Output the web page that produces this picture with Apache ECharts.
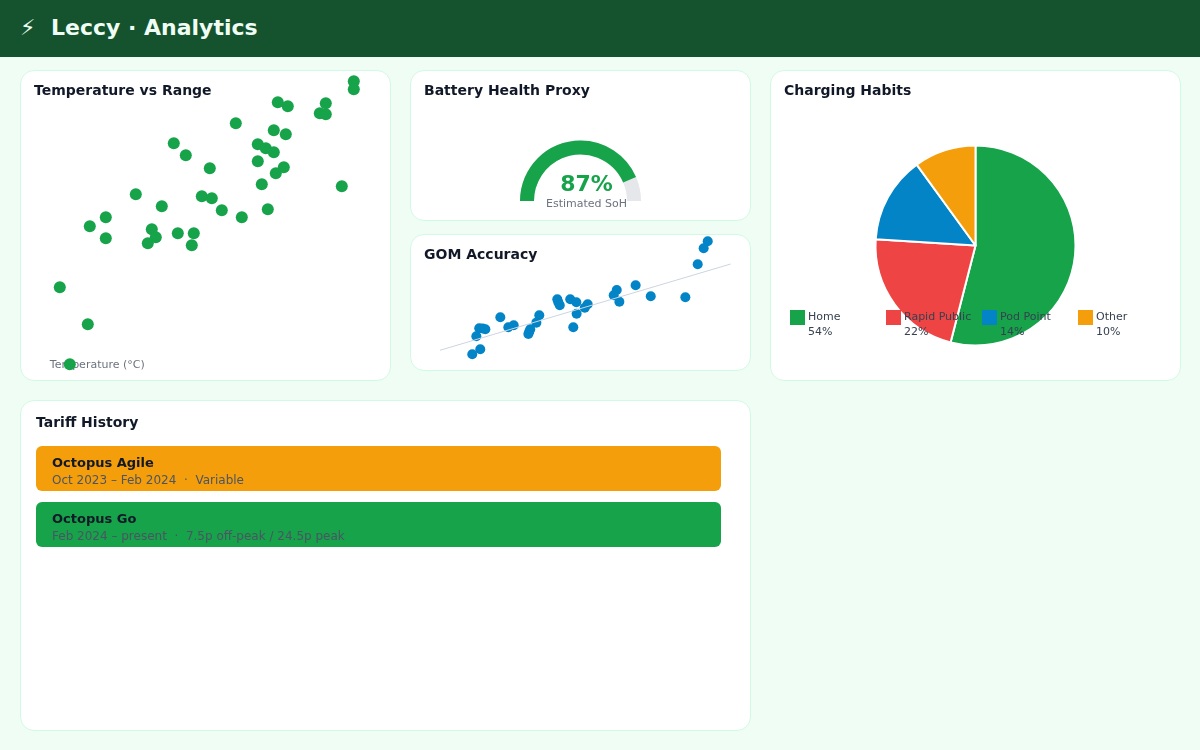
<!DOCTYPE html>
<html lang="en">
<head>
<meta charset="utf-8">
<title>Leccy · Analytics</title>
<script src="https://cdn.jsdelivr.net/npm/echarts@6/dist/echarts.min.js"></script>
<style>
  * { box-sizing: border-box; }
  html, body { margin: 0; width: 1200px; height: 750px; overflow: hidden; background: #f0fdf4;
    font-family: "DejaVu Sans", sans-serif; }
  header { position: absolute; left: 0; top: 0; width: 1200px; height: 57px; background: #14532d;
    color: #f0fdf4; font-weight: 700; font-size: 22px; line-height: 56px; }
  header .bolt { position: absolute; left: 20px; font-weight: 400; font-size: 22px; }
  header .name { position: absolute; left: 51px; }
  .card { position: absolute; background: #fff; border: 1px solid #d1fae5; border-radius: 14px; }
  .card h2 { position: absolute; left: 13px; top: 11px; margin: 0; font-size: 14px; line-height: 17px;
    font-weight: 700; color: #111827; white-space: nowrap; z-index: 2; }
  .plot { position: absolute; left: 0; top: 0; width: 100%; height: 100%; }
  .legend { position: absolute; left: 19px; top: 238px; width: 384px; display: flex; z-index: 2; }
  .legend div { width: 96px; position: relative; padding-left: 18px; font-size: 11px; line-height: 15px; color: #374151; }
  .legend i { position: absolute; left: 0; top: 1px; width: 15px; height: 15px; }
</style>
</head>
<body>
<header><span class="bolt">⚡</span><span class="name">Leccy · Analytics</span></header>

<section class="card" style="left:20px;top:70px;width:371px;height:311px">
  <h2>Temperature vs Range</h2><div class="plot" id="tempChart"></div>
</section>
<section class="card" style="left:410px;top:70px;width:341px;height:151px">
  <h2>Battery Health Proxy</h2><div class="plot" id="healthChart"></div>
</section>
<section class="card" style="left:410px;top:234px;width:341px;height:137px">
  <h2>GOM Accuracy</h2><div class="plot" id="gomChart"></div>
</section>
<section class="card" style="left:770px;top:70px;width:411px;height:311px">
  <h2>Charging Habits</h2><div class="plot" id="habitChart"></div><div class="legend" id="habitLegend"></div>
</section>
<section class="card" style="left:20px;top:400px;width:731px;height:331px">
  <h2 style="left:15px;top:13px">Tariff History</h2><div class="plot" id="tariffChart"></div>
</section>

<script>
const GREEN = '#16a34a', BLUE = '#0284c7', RED = '#ef4444', AMBER = '#f59e0b';

// Outside temperature (°C) against achieved range (miles)
const tempRange = [
  [15.2,261.9],[15.2,257.9],[11.4,251.4],[11.9,249.4],[13.8,250.9],[13.5,245.9],[13.8,245.4],[9.3,240.9],
  [11.2,237.4],[11.8,235.4],[6.2,230.9],[10.4,230.4],[10.8,228.4],[11.2,226.4],[6.8,224.9],[10.4,221.9],
  [8.0,218.4],[11.7,218.9],[11.3,215.9],[10.6,210.4],[14.6,209.4],[4.3,205.4],[7.6,204.4],[8.1,203.4],
  [5.6,199.4],[10.9,197.9],[8.6,197.4],[9.6,193.9],[2.8,193.9],[2.0,189.4],[5.1,187.9],[5.3,183.9],
  [6.4,185.9],[7.2,185.9],[2.8,183.4],[4.9,180.9],[7.1,179.9],[0.5,158.9],[1.9,140.4],[1.0,120.4]
];

// Guess-o-meter prediction against miles actually driven
const gomReadings = [
  [284.2,352.6],[281.4,336.4],[277.3,299.3],[234.6,250.6],[221.6,239.7],[219.5,227.5],[245.0,225.1],[268.8,222.8],
  [223.4,212.6],[180.7,218.2],[181.4,211.2],[182.4,204.3],[189.6,218.2],[193.8,211.2],[201.6,206.6],[199.6,198.7],
  [194.0,184.8],[168.3,181.1],[166.3,164.0],[191.7,153.3],[141.5,176.5],[150.7,157.9],[147.0,153.3],[162.1,148.7],
  [161.4,143.1],[160.8,137.8],[127.0,151.0],[129.4,150.3],[131.2,148.7],[125.0,132.4],[127.7,102.3],[122.2,90.7]
];
const gomParity = [[100,100],[300,300]];

const healthPercent = 87;
const healthLabel = 'Estimated SoH';

const habitNames = ['Home', 'Rapid Public', 'Pod Point', 'Other'];
const habitShares = [54, 22, 14, 10];
const habitColours = [GREEN, RED, BLUE, AMBER];

const tariffNames = ['Octopus Agile', 'Octopus Go'];
const tariffDetails = ['Oct 2023 – Feb 2024  ·  Variable', 'Feb 2024 – present  ·  7.5p off-peak / 24.5p peak'];
const tariffColours = [AMBER, GREEN];

const mount = id => echarts.init(document.getElementById(id), null, { renderer: 'canvas' });
const hiddenAxis = { show: false, type: 'value' };

mount('tempChart').setOption({
  animation: false,
  grid: { left: 28.8, top: 4, width: 320, height: 290 },
  xAxis: {
    type: 'value', min: 0, max: 16, splitLine: { show: false },
    axisLine: { show: false }, axisTick: { show: false }, axisLabel: { show: false },
    name: 'Temperature (°C)', nameLocation: 'start', nameGap: 0,
    nameTextStyle: { color: '#6b7280', fontSize: 11, align: 'left', verticalAlign: 'middle',
      fontFamily: 'DejaVu Sans', padding: [2, 0, 0, 0] }
  },
  yAxis: { ...hiddenAxis, min: 120, max: 265 },
  series: [{
    type: 'scatter', data: tempRange, symbolSize: 12, clip: false,
    itemStyle: { color: GREEN, opacity: 1 }, emphasis: { disabled: true }
  }]
});

mount('healthChart').setOption({
  animation: false,
  series: [{
    type: 'gauge', center: [169.5, 130], radius: 60.5, startAngle: 180, endAngle: 0, min: 0, max: 100,
    data: [{ value: healthPercent, name: healthLabel }],
    axisLine: { lineStyle: { width: 14, color: [[1, '#e5e7eb']] } },
    progress: { show: true, width: 14, itemStyle: { color: GREEN } },
    pointer: { show: false }, axisTick: { show: false }, splitLine: { show: false }, axisLabel: { show: false },
    title: { offsetCenter: [6, 3], fontSize: 11, color: '#6b7280', fontFamily: 'DejaVu Sans' },
    detail: { offsetCenter: [6, -16], fontSize: 22, fontWeight: 700, color: GREEN,
      fontFamily: 'DejaVu Sans', formatter: '{value}%' }
  }]
});

mount('gomChart').setOption({
  animation: false,
  grid: { left: 29, top: 3.1, width: 290.7, height: 120.8 },
  xAxis: { ...hiddenAxis, min: 100, max: 300 },
  yAxis: { ...hiddenAxis, min: 80, max: 360 },
  series: [
    { type: 'scatter', data: gomReadings, symbolSize: 10, clip: false,
      itemStyle: { color: BLUE, opacity: 1 }, emphasis: { disabled: true } },
    { type: 'line', data: gomParity, showSymbol: false, silent: true, z: 3,
      lineStyle: { color: '#cbd5e1', width: 1 } }
  ]
});

mount('habitChart').setOption({
  animation: false,
  series: [{
    type: 'pie', center: [204.5, 174.5], radius: [0, 100], startAngle: 90, clockwise: true,
    data: habitNames.map((name, i) => ({ name, value: habitShares[i], itemStyle: { color: habitColours[i] } })),
    itemStyle: { borderColor: '#fff', borderWidth: 2 },
    label: { show: false }, labelLine: { show: false }, emphasis: { disabled: true }
  }]
});

document.getElementById('habitLegend').innerHTML = habitNames.map((name, i) =>
  `<div><i style="background:${habitColours[i]}"></i>${name}<br>${habitShares[i]}%</div>`).join('');

mount('tariffChart').setOption({
  animation: false,
  grid: { left: 15, top: 39.5, width: 685, height: 112 },
  xAxis: { ...hiddenAxis, min: 0, max: 1 },
  yAxis: { type: 'category', inverse: true, show: false, data: tariffNames },
  series: [{
    type: 'bar', barWidth: 45, silent: true,
    data: tariffNames.map((name, i) => ({ value: 1, itemStyle: { color: tariffColours[i], borderRadius: 6 } })),
    label: {
      show: true, position: 'insideLeft', distance: 16, offset: [0, 4],
      formatter: p => `{n|${tariffNames[p.dataIndex]}}\n{d|${tariffDetails[p.dataIndex]}}`,
      rich: {
        n: { fontFamily: 'DejaVu Sans', fontSize: 13, fontWeight: 700, color: '#111827', lineHeight: 17 },
        d: { fontFamily: 'DejaVu Sans', fontSize: 12, color: '#4b5563', lineHeight: 17 }
      }
    }
  }]
});
</script>
</body>
</html>
